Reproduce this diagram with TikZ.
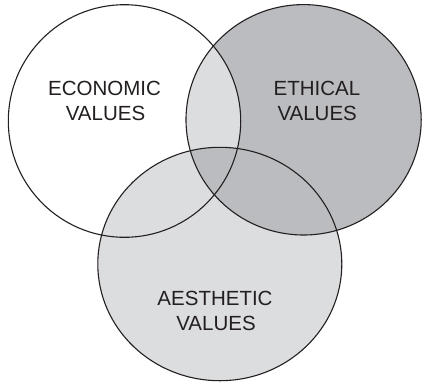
\documentclass[tikz,border=0pt]{standalone}
\usepackage{fontspec}
\setmainfont{Liberation Sans}
\begin{document}
\begin{tikzpicture}[x=1pt,y=-1pt,
  outline/.style={draw=inkgray,line width=1.1pt},
  label/.style={anchor=base,inner sep=0pt,text=inkgray,font=\fontsize{20.5}{24}\selectfont}]
\definecolor{inkgray}{RGB}{35,31,32}
\definecolor{lightfill}{RGB}{220,221,223}
\definecolor{darkfill}{RGB}{187,188,191}
\useasboundingbox (0,0) rectangle (422,383);
\fill[white] (0,0) rectangle (422,383);
% circle geometry
\def\econ{(124.5,121) ellipse [x radius=116.2, y radius=116.3]}
\def\ethic{(303.6,119.8) ellipse [x radius=117.6, y radius=115.2]}
\def\aesth{(219.8,264) ellipse [x radius=122, y radius=116.7]}
% shading of the regions
\fill[lightfill] \aesth;
\fill[darkfill] \ethic;
\begin{scope}
  \clip \econ;
  \fill[lightfill] \ethic;
  \clip \aesth;
  \fill[darkfill] \ethic;
\end{scope}
% outlines
\draw[outline] \econ;
\draw[outline] \ethic;
\draw[outline] \aesth;
% labels
\node[label] (econA) at (104.5,95) {ECONOMIC};
\node[label] (econB) at (105.5,120) {VALUES};
\node[label] (ethA) at (317,95) {ETHICAL};
\node[label] (ethB) at (317.2,120) {VALUES};
\node[label] (aesA) at (215,305) {AESTHETIC};
\node[label] (aesB) at (216,330) {VALUES};
\end{tikzpicture}
\end{document}
